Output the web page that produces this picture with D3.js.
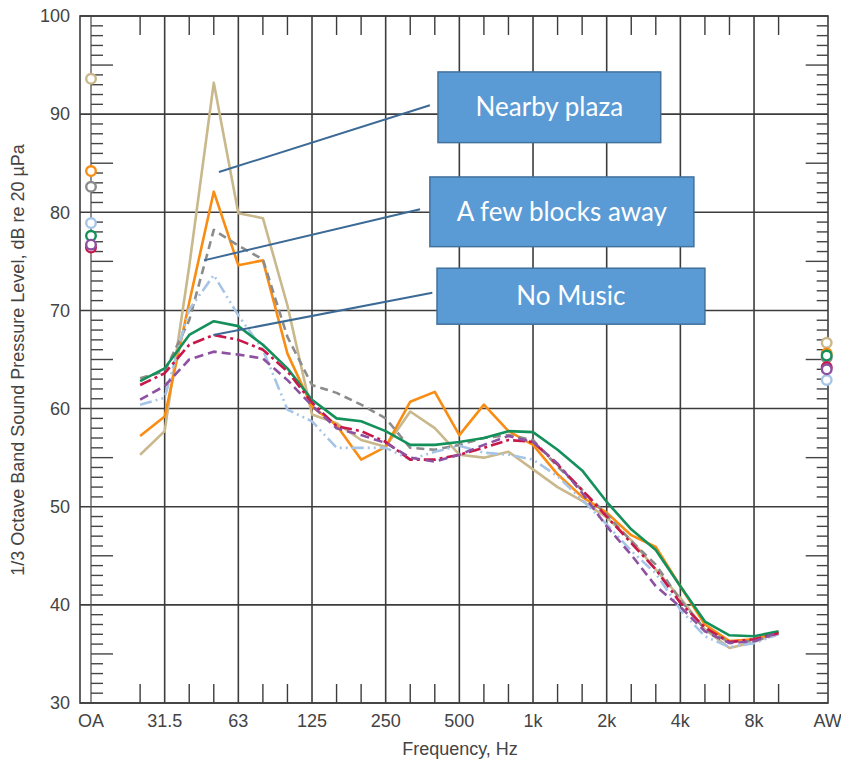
<!DOCTYPE html>
<html lang="en">
<head>
    <meta charset="UTF-8">
    <title>1/3 Octave Band Spectra</title>
    <script src="https://d3js.org/d3.v7.min.js"></script>
    <style>
        body {
            margin: 0;
            background: #fff;
        }
        svg { display: block; font-family: "Liberation Sans", Arial, sans-serif; }
    </style>
</head>
<body>
<svg id="chart" width="841" height="763"></svg>

<script>
    // x categories: OA, 1/3 octave bands 20 Hz .. 12.5 kHz, AW
    const categories = ['OA', '20', '25', '31.5', '40', '50', '63', '80', '100', '125', '160', '200', '250',
        '315', '400', '500', '630', '800', '1k', '1.25k', '1.6k', '2k', '2.5k', '3.15k', '4k', '5k',
        '6.3k', '8k', '10k', '12.5k', 'AW'];
    const xLabels = ['OA', '31.5', '63', '125', '250', '500', '1k', '2k', '4k', '8k', 'AW'];
    const majorLines = ['OA', '31.5', '63', '125', '250', '500', '1k', '2k', '4k', '8k'];
    const minorTicks = ['25', '40', '50', '80', '100', '160', '200', '315', '400', '630', '800',
        '1.25k', '1.6k', '2.5k', '3.15k', '5k', '6.3k', '10k'];
    const yTicks = [30, 40, 50, 60, 70, 80, 90, 100];

    // measured bands, 25 Hz .. 10 kHz
    const bands = categories.slice(2, 29);

    const tanLevels = [55.3, 57.7, 74.5, 93.2, 79.9, 79.4, 70.5, 59.4, 58.5, 56.8, 56.1, 59.7, 58.0, 55.3,
        55.0, 55.6, 53.8, 52.0, 50.6, 48.9, 46.6, 43.6, 40.7, 37.5, 35.6, 36.2, 37.2];
    const orangeLevels = [57.2, 59.2, 70.8, 82.1, 74.6, 75.1, 65.6, 60.2, 58.3, 54.8, 56.1, 60.7, 61.7, 57.3,
        60.4, 57.7, 56.3, 53.3, 51.0, 49.4, 47.1, 45.9, 41.9, 38.0, 36.3, 36.5, 37.2];
    const grayLevels = [63.1, 63.8, 69.0, 78.2, 76.6, 75.2, 67.3, 62.4, 61.6, 60.4, 59.0, 56.0, 55.8, 56.3,
        57.0, 57.3, 56.8, 54.1, 51.7, 49.2, 46.5, 44.1, 40.5, 37.5, 36.2, 36.3, 37.0];
    const blueLevels = [60.4, 61.1, 70.1, 73.6, 69.5, 66.0, 59.9, 58.7, 56.0, 56.0, 56.0, 54.8, 55.6, 56.2,
        55.5, 55.3, 54.8, 53.1, 50.7, 48.2, 45.5, 43.2, 39.5, 36.8, 35.7, 36.1, 37.0];
    const greenLevels = [62.8, 64.1, 67.5, 68.9, 68.4, 66.5, 64.1, 60.9, 59.0, 58.7, 57.7, 56.3, 56.3, 56.6,
        57.0, 57.7, 57.6, 55.8, 53.7, 50.5, 47.7, 45.6, 41.9, 38.3, 36.9, 36.8, 37.3];
    const crimsonLevels = [62.4, 63.6, 66.5, 67.5, 67.0, 66.0, 63.8, 60.6, 58.2, 57.7, 56.6, 54.8, 54.8, 55.3,
        56.0, 56.8, 56.6, 54.3, 51.7, 49.0, 46.3, 43.6, 40.2, 37.7, 36.2, 36.5, 37.1];
    const purpleLevels = [60.9, 62.3, 65.0, 65.8, 65.5, 65.1, 62.9, 60.3, 58.0, 57.3, 56.5, 55.0, 54.6, 55.3,
        56.3, 57.2, 56.6, 54.4, 51.4, 48.0, 45.1, 41.9, 39.8, 37.3, 36.1, 36.3, 37.2];

    // overall (OA) and A-weighted (AW) totals, same series order
    const oaLevels = [93.6, 84.2, 82.6, 78.9, 77.6, 76.4, 76.7];
    const awLevels = [66.7, 65.6, 65.2, 62.9, 65.4, 64.2, 64.0];

    // annotation boxes, in category-position / dB units
    const boxes = [
        { text: 'Nearby plaza', x0: 14.13, x1: 23.2, y0: 94.3, y1: 87.1 },
        { text: 'A few blocks away', x0: 13.8, x1: 24.55, y0: 83.6, y1: 76.5 },
        { text: 'No Music', x0: 14.09, x1: 25.0, y0: 74.3, y1: 68.6 }
    ];
    const leaders = [
        { x0: 5.21, y0: 84.1, x1: 13.8, y1: 90.9 },
        { x0: 4.6, y0: 75.1, x1: 13.4, y1: 80.3 },
        { x0: 4.98, y0: 67.5, x1: 13.9, y1: 71.8 }
    ];

    const series = [
        { values: tanLevels, color: '#c9b88c', dash: null },
        { values: orangeLevels, color: '#f98c12', dash: null },
        { values: grayLevels, color: '#8c8c8c', dash: '8,5' },
        { values: blueLevels, color: '#a6c5e6', dash: '12,4,2,4,2,4' },
        { values: greenLevels, color: '#14905a', dash: null },
        { values: crimsonLevels, color: '#c8174a', dash: '12,4,3,4' },
        { values: purpleLevels, color: '#8e50a0', dash: '9,5' }
    ];

    const svg = d3.select('#chart');
    const plotLeft = 80, plotRight = 828, plotTop = 16, plotBottom = 703;

    const x = d3.scalePoint().domain(categories).range([91, 827.7]);
    const step = x.step();
    const xPos = v => x('OA') + v * step;   // fractional category position (annotations)
    const y = d3.scaleLinear().domain([30, 100]).range([plotBottom, plotTop]);

    const gridColor = '#3c3c3c';
    const textColor = '#444';

    // horizontal grid
    svg.append('g').selectAll('line')
        .data(yTicks)
        .join('line')
        .attr('x1', plotLeft).attr('x2', plotRight)
        .attr('y1', d => y(d)).attr('y2', d => y(d))
        .attr('stroke', gridColor).attr('stroke-width', 1.6);

    // vertical grid
    svg.append('g').selectAll('line')
        .data(majorLines)
        .join('line')
        .attr('x1', d => x(d)).attr('x2', d => x(d))
        .attr('y1', plotTop).attr('y2', plotBottom)
        .attr('stroke', d => d === 'OA' ? '#555' : gridColor)
        .attr('stroke-width', d => d === 'OA' ? 1.3 : 1.6);

    // minor band ticks at top and bottom
    const minor = svg.append('g').attr('stroke', gridColor).attr('stroke-width', 1.4);
    minor.append('g').selectAll('line').data(minorTicks).join('line')
        .attr('x1', d => x(d)).attr('x2', d => x(d))
        .attr('y1', plotBottom).attr('y2', plotBottom - 19);
    minor.append('g').selectAll('line').data(minorTicks).join('line')
        .attr('x1', d => x(d)).attr('x2', d => x(d))
        .attr('y1', plotTop).attr('y2', plotTop + 19);

    // 1 dB ticks on OA and AW columns
    const dbTicks = d3.range(31, 100).filter(d => d % 10 !== 0);
    const dbg = svg.append('g').attr('stroke', '#444').attr('stroke-width', 1.4);
    dbg.append('g').selectAll('line').data(dbTicks).join('line')
        .attr('x1', x('OA')).attr('x2', d => x('OA') + (d % 5 === 0 ? 22 : 12))
        .attr('y1', d => y(d)).attr('y2', d => y(d));
    dbg.append('g').selectAll('line').data(dbTicks).join('line')
        .attr('x1', x('AW')).attr('x2', d => x('AW') - (d % 5 === 0 ? 22 : 11))
        .attr('y1', d => y(d)).attr('y2', d => y(d));

    // frame
    svg.append('rect')
        .attr('x', plotLeft).attr('y', plotTop)
        .attr('width', plotRight - plotLeft).attr('height', plotBottom - plotTop)
        .attr('fill', 'none').attr('stroke', gridColor).attr('stroke-width', 1.6);

    // tick labels
    svg.append('g').selectAll('text')
        .data(yTicks)
        .join('text')
        .attr('x', 70).attr('y', d => y(d))
        .attr('dy', '0.35em')
        .attr('text-anchor', 'end')
        .attr('font-size', 18).attr('fill', textColor)
        .text(d => d);

    svg.append('g').selectAll('text')
        .data(xLabels)
        .join('text')
        .attr('x', d => x(d)).attr('y', 727)
        .attr('text-anchor', 'middle')
        .attr('font-size', 18).attr('fill', textColor)
        .text(d => d);

    svg.append('text')
        .attr('x', 460).attr('y', 755)
        .attr('text-anchor', 'middle')
        .attr('font-size', 18).attr('fill', textColor)
        .text('Frequency, Hz');

    svg.append('text')
        .attr('transform', 'translate(24,360) rotate(-90)')
        .attr('text-anchor', 'middle')
        .attr('font-size', 18).attr('fill', textColor)
        .text('1/3 Octave Band Sound Pressure Level, dB re 20 µPa');

    // spectra
    const line = d3.line()
        .x((d, i) => x(bands[i]))
        .y(d => y(d));

    svg.append('g').selectAll('path')
        .data(series)
        .join('path')
        .attr('fill', 'none')
        .attr('stroke', d => d.color)
        .attr('stroke-width', 2.6)
        .attr('stroke-dasharray', d => d.dash)
        .attr('stroke-linejoin', 'round')
        .attr('d', d => line(d.values));

    // OA and AW markers
    const markerOrder = [0, 1, 2, 3, 4, 5, 6];
    const marks = svg.append('g');
    marks.append('g').selectAll('circle').data(markerOrder).join('circle')
        .attr('cx', x('OA')).attr('cy', i => y(oaLevels[i]))
        .attr('r', 4.8).attr('fill', '#fff')
        .attr('stroke', i => series[i].color).attr('stroke-width', 2.4);
    marks.append('g').selectAll('circle').data(markerOrder).join('circle')
        .attr('cx', x('AW') - 1).attr('cy', i => y(awLevels[i]))
        .attr('r', 4.8).attr('fill', '#fff')
        .attr('stroke', i => series[i].color).attr('stroke-width', 2.4);

    // annotations
    svg.append('g').selectAll('line')
        .data(leaders)
        .join('line')
        .attr('x1', d => xPos(d.x0)).attr('y1', d => y(d.y0))
        .attr('x2', d => xPos(d.x1)).attr('y2', d => y(d.y1))
        .attr('stroke', '#3c6a96').attr('stroke-width', 2);

    const box = svg.append('g').selectAll('g')
        .data(boxes)
        .join('g');
    box.append('rect')
        .attr('x', d => xPos(d.x0)).attr('y', d => y(d.y0))
        .attr('width', d => xPos(d.x1) - xPos(d.x0))
        .attr('height', d => y(d.y1) - y(d.y0))
        .attr('fill', '#5b9bd5').attr('stroke', '#41719c').attr('stroke-width', 1.5);
    box.append('text')
        .attr('x', d => (xPos(d.x0) + xPos(d.x1)) / 2)
        .attr('y', d => (y(d.y0) + y(d.y1)) / 2)
        .attr('dy', '0.35em')
        .attr('text-anchor', 'middle')
        .attr('font-family', 'Lato, "Open Sans", sans-serif')
        .attr('font-size', 26).attr('fill', '#fff')
        .text(d => d.text);
</script>
</body>
</html>
